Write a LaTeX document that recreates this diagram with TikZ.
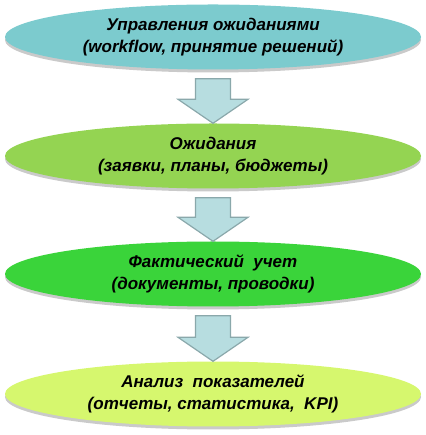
\documentclass[tikz,border=0pt]{standalone}
\usepackage{fontspec}
\setmainfont{Liberation Sans}
\usetikzlibrary{shapes.geometric,shadows,calc}
\definecolor{cteal}{HTML}{7CCBCE}
\definecolor{cgreen}{HTML}{94D452}
\definecolor{cbright}{HTML}{3AD43A}
\definecolor{clime}{HTML}{D6F76E}
\definecolor{arrfill}{HTML}{B7DDE0}
\definecolor{arrline}{HTML}{8AA8AB}
\tikzset{
  stage/.style={ellipse, minimum width=416pt, minimum height=65pt, inner sep=0pt,
    align=center, font=\fontsize{17}{22}\selectfont\bfseries\itshape,
    drop shadow={shadow xshift=0pt, shadow yshift=-3pt, opacity=0.35, fill=black!60}},
  flowarrow/.style={fill=arrfill, draw=arrline, line width=1.2pt, line join=miter}
}
\newcommand{\flowarr}[2]{%
  \draw[flowarrow] ($(#1.south)+(-17.5pt,-9pt)$) -- ($(#1.south)+(17.5pt,-9pt)$)
    -- ($(#2.north)+(17.5pt,24pt)$) -- ($(#2.north)+(35pt,24pt)$) -- (#2.north)
    -- ($(#2.north)+(-35pt,24pt)$) -- ($(#2.north)+(-17.5pt,24pt)$) -- cycle;}
\begin{document}
\begin{tikzpicture}[x=1pt,y=1pt]
\useasboundingbox (0,0) rectangle (425,435);
\node[stage, fill=cteal]   (e1) at (213,398) {Управления ожиданиями\\(workflow, принятие решений)};
\node[stage, fill=cgreen]  (e2) at (213,279) {Ожидания\\(заявки, планы, бюджеты)};
\node[stage, fill=cbright] (e3) at (213,161) {Фактический\ \ учет\\(документы, проводки)};
\node[stage, fill=clime]   (e4) at (213,41)  {Анализ\ \ показателей\\(отчеты, статистика,\ \ KPI)};
\flowarr{e1}{e2}
\flowarr{e2}{e3}
\flowarr{e3}{e4}
\end{tikzpicture}
\end{document}
